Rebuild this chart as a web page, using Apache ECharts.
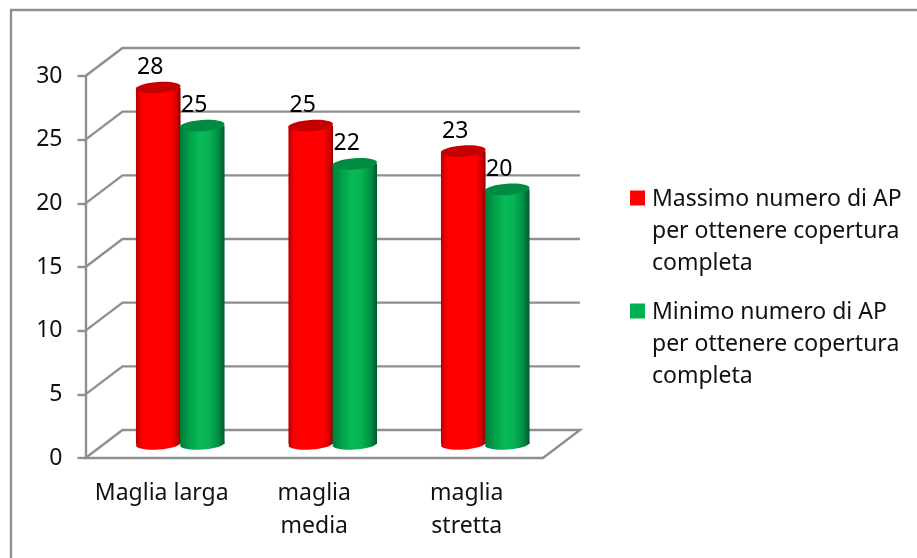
<!DOCTYPE html>
<html>
<head>
<meta charset="utf-8">
<style>html,body{margin:0;padding:0;background:#fff}#chart{width:917px;height:558px}</style>
<script src="https://cdn.jsdelivr.net/npm/echarts@6/dist/echarts.min.js"></script>
</head>
<body>
<div id="chart"></div>
<script>
// Numero di access point per tipo di maglia
const categories = ['Maglia larga', 'maglia\nmedia', 'maglia\nstretta'];
const massimo = [28, 25, 23];
const minimo = [25, 22, 20];
const wallTicks = [0, 5, 10, 15, 20, 25, 30];
const seriesNames = [
  'Massimo numero di AP per ottenere copertura completa',
  'Minimo numero di AP per ottenere copertura completa'
];
const legendLines = [
  'Massimo numero di AP\nper ottenere copertura\ncompleta',
  'Minimo numero di AP\nper ottenere copertura\ncompleta'
];

const FONT = '"Noto Sans"';
const FONT_SIZE = 23;
const GRAY = '#8f8f8f';
const TEXT = '#111111';
// Oblique offset between the front plane and the back wall
const DEPTH_X = 37;
const DEPTH_Y = -28;
const RX = 22.3;
const RY = 5.6;
const TILT = 0.07;

function sideShade(stops) {
  return {
    type: 'linear', x: 0, y: 0, x2: 1, y2: 0,
    colorStops: stops.map(function (s) { return { offset: s[0], color: s[1] }; })
  };
}
const redShade = sideShade([[0, '#b00000'], [0.08, '#e80000'], [0.18, '#ff0000'], [0.78, '#ff0000'], [0.92, '#d00000'], [1, '#900000']]);
const greenShade = sideShade([[0, '#007a3a'], [0.2, '#00a04a'], [0.45, '#08bb58'], [0.65, '#06b252'], [0.85, '#009044'], [1, '#005a2c']]);

// Back wall, floor edges and side rungs of the oblique box
function renderWall(params, api) {
  const v = api.value(0);
  const left = api.coord([0, v]);
  const x0 = params.coordSys.x;
  const x1 = x0 + params.coordSys.width;
  const y = left[1];
  const pts = [[x0, y], [x0 + DEPTH_X, y + DEPTH_Y], [x1 + DEPTH_X, y + DEPTH_Y]];
  if (v === 0) pts.push([x1, y]);
  return {
    type: 'polyline',
    shape: { points: pts },
    style: { fill: null, stroke: GRAY, lineWidth: 2.4 }
  };
}

function cylinderRenderer(shift, shade, topColor) {
  return function (params, api) {
    const cat = api.value(0);
    const val = api.value(1);
    const top = api.coord([cat, val]);
    const base = api.coord([cat, 0]);
    const cx = top[0] + DEPTH_X / 2 + shift;
    const yTop = top[1] + DEPTH_Y / 2;
    const yBase = base[1] + DEPTH_Y / 2;
    return {
      type: 'group',
      children: [
        {
          type: 'ellipse', x: cx, y: yBase, rotation: TILT,
          shape: { cx: 0, cy: 0, rx: RX, ry: RY },
          style: { fill: shade }
        },
        {
          type: 'rect', x: cx - RX, y: yTop,
          shape: { x: 0, y: 0, width: 2 * RX, height: yBase - yTop },
          style: { fill: shade }
        },
        {
          type: 'ellipse', x: cx, y: yTop, rotation: TILT,
          shape: { cx: 0, cy: 0, rx: RX, ry: RY },
          style: { fill: topColor }
        },
        {
          type: 'text', x: cx - 8, y: yTop - 20,
          style: {
            text: String(val), fill: '#000', font: FONT_SIZE + 'px ' + FONT,
            align: 'center', verticalAlign: 'middle'
          }
        }
      ]
    };
  };
}

function pairs(values) {
  return values.map(function (v, i) { return [i, v]; });
}

const chart = echarts.init(document.getElementById('chart'), null, { renderer: 'canvas' });
chart.setOption({
  animation: false,
  backgroundColor: '#ffffff',
  textStyle: { fontFamily: FONT },
  graphic: [{
    type: 'polyline', silent: true, z: -1,
    shape: { points: [[11, 558], [11, 10], [917, 10]] },
    style: { fill: null, stroke: GRAY, lineWidth: 2.4 }
  }],
  grid: { left: 85.5, top: 76, width: 457.5, height: 382 },
  xAxis: {
    type: 'category',
    data: categories,
    axisLine: { lineStyle: { color: GRAY, width: 2.4 } },
    axisTick: { show: false },
    axisLabel: { color: TEXT, fontFamily: FONT, fontSize: FONT_SIZE, lineHeight: 33, margin: 19, interval: 0 }
  },
  yAxis: {
    type: 'value', min: 0, max: 30, interval: 5,
    axisLine: { show: true, lineStyle: { color: GRAY, width: 2.4 } },
    axisTick: { show: true, length: 8, lineStyle: { color: GRAY, width: 2.4 } },
    axisLabel: { color: TEXT, fontFamily: FONT, fontSize: FONT_SIZE, margin: 23, padding: [7, 0, 0, 0] },
    splitLine: { show: false }
  },
  legend: {
    orient: 'vertical',
    left: 625, top: 178,
    itemWidth: 17, itemHeight: 81, itemGap: 17,
    icon: 'path://M0 0H15V15H0Z M17 81L17 81.01',
    data: seriesNames,
    formatter: function (name) { return legendLines[seriesNames.indexOf(name)]; },
    textStyle: { color: TEXT, fontFamily: FONT, fontSize: FONT_SIZE, lineHeight: 32 },
    itemStyle: { borderWidth: 0 },
    selectedMode: false
  },
  series: [
    {
      type: 'custom', name: 'Griglia', silent: true, z: 1,
      coordinateSystem: 'cartesian2d',
      renderItem: renderWall,
      data: wallTicks.map(function (t) { return [t]; }),
      encode: { y: 0 }
    },
    {
      type: 'custom', name: seriesNames[0], z: 2,
      coordinateSystem: 'cartesian2d',
      itemStyle: { color: '#ff0000' },
      renderItem: cylinderRenderer(-22, redShade, '#c40000'),
      data: pairs(massimo),
      encode: { x: 0, y: 1 }
    },
    {
      type: 'custom', name: seriesNames[1], z: 3,
      coordinateSystem: 'cartesian2d',
      itemStyle: { color: '#00b050' },
      renderItem: cylinderRenderer(22, greenShade, '#008c40'),
      data: pairs(minimo),
      encode: { x: 0, y: 1 }
    }
  ]
});
</script>
</body>
</html>
